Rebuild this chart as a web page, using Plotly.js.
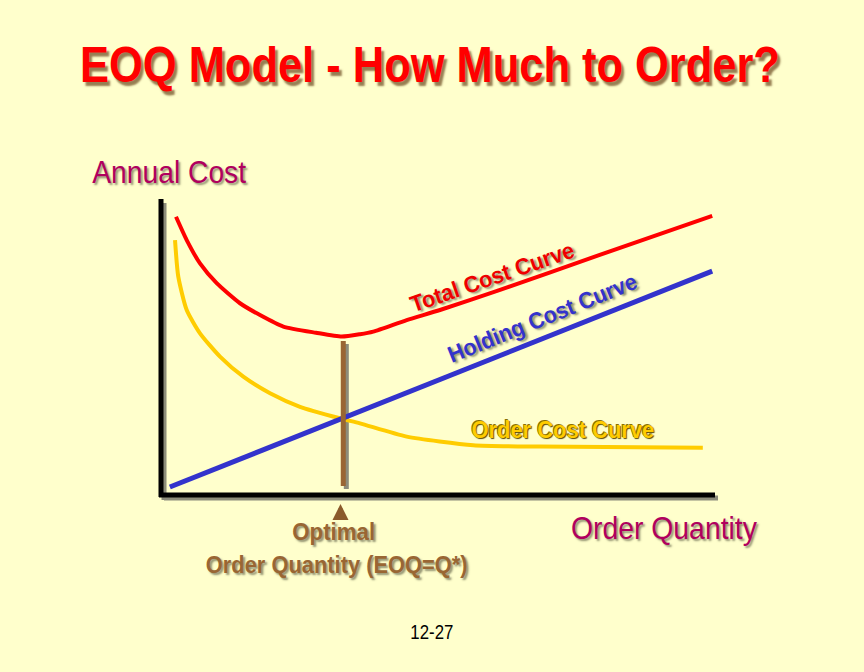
<!DOCTYPE html>
<html>
<head>
<meta charset="utf-8">
<script src="https://cdn.plot.ly/plotly-3.0.1.min.js"></script>
<style>html,body{margin:0;padding:0;background:#FFFFCC;}#chart{width:864px;height:672px;}</style>
</head>
<body>
<div id="chart"></div>
<script>
// Data (arbitrary units: order quantity 0-100, annual cost 0-100)
const totalQ    = [2.71, 4.64, 7.04, 10.05, 14.26, 17.87, 22.08, 27.98, 32.62, 35.92, 38.32, 44.35, 50.36, 61.2, 79.2, 99.5];
const totalCost = [94.3, 86.4, 78.5, 71.8, 65.0, 61.0, 57.1, 55.0, 53.7, 54.5, 55.4, 59.3, 62.7, 69.5, 81.4, 94.6];
const orderQ    = [2.53, 3.12, 4.64, 7.04, 10.65, 14.86, 19.68, 25.09, 32.31, 35.92, 44.35, 56.37, 68.41, 97.8];
const orderCost = [86.4, 74.0, 62.7, 54.8, 46.9, 40.1, 34.5, 29.9, 26.0, 24.3, 19.8, 16.9, 16.4, 16.0];
const holdQ     = [1.6, 99.5];
const holdCost  = [2.7, 75.9];
const eoqQ      = [32.9, 32.9];
const eoqBar    = [3.05, 52.2];

const L = 161, R = 715, T = 200, B = 495;
const px = x => (x - L) / (R - L);
const py = y => (B - y) / (B - T);
const face = "Liberation Sans, Arial, sans-serif";
const shadow = "2px 2px 2px rgba(60,60,40,0.55)";

const traces = [
  {x: eoqQ.map(v => v + 0.55), y: eoqBar.map(v => v - 1.0), mode: 'lines', line: {color: '#8c8c7a', width: 5}, hoverinfo: 'skip'},
  {x: orderQ, y: orderCost, mode: 'lines', line: {color: '#FFCC00', width: 4, shape: 'spline', smoothing: 0.6}},
  {x: holdQ, y: holdCost, mode: 'lines', line: {color: '#3333CC', width: 5}},
  {x: totalQ, y: totalCost, mode: 'lines', line: {color: '#FF0000', width: 4, shape: 'spline', smoothing: 0.6}},
  {x: eoqQ, y: eoqBar, mode: 'lines', line: {color: '#996633', width: 5}, hoverinfo: 'skip'}
];

// target widths (px) for condensed look
const fitW = {
  'EOQ Model - How Much to Order?': 700,
  'Annual Cost': 154,
  'Order Quantity': 186,
  'Total Cost Curve': 172,
  'Holding Cost Curve': 202,
  'Order Cost Curve': 183,
  'Optimal': 83,
  'Order Quantity (EOQ=Q*)': 262,
  '12-27': 43
};

const layout = {
  width: 864, height: 672,
  paper_bgcolor: '#FFFFCC', plot_bgcolor: 'rgba(0,0,0,0)',
  margin: {l: L, r: 864 - R, t: T, b: 672 - B, pad: 0},
  showlegend: false,
  xaxis: {range: [0, 100], visible: false, fixedrange: true},
  yaxis: {range: [0, 100], visible: false, fixedrange: true},
  title: {text: '<b>EOQ Model - How Much to Order?</b>', x: 430/864, xanchor: 'center', y: 1 - 65/672, yanchor: 'middle',
          font: {family: face, size: 50, color: '#FF0000', shadow: "3px 3px 2px rgba(80,40,0,0.6)"}},
  shapes: [
    {type: 'line', xref: 'paper', yref: 'paper', x0: px(164), x1: px(164), y0: py(203), y1: py(500), line: {color: '#8c8c7a', width: 5}, layer: 'below'},
    {type: 'line', xref: 'paper', yref: 'paper', x0: px(164), x1: px(718), y0: py(498), y1: py(498), line: {color: '#8c8c7a', width: 5}, layer: 'below'},
    {type: 'line', xref: 'paper', yref: 'paper', x0: px(161), x1: px(161), y0: py(199), y1: py(497), line: {color: '#000000', width: 5}},
    {type: 'line', xref: 'paper', yref: 'paper', x0: px(159), x1: px(715), y0: py(495), y1: py(495), line: {color: '#000000', width: 5}}
  ],
  annotations: [
    {text: 'Annual Cost', xref: 'paper', yref: 'paper', x: px(169), y: py(172), xanchor: 'center', yanchor: 'middle', showarrow: false,
     font: {family: face, size: 32, color: '#B0005E', shadow: shadow}},
    {text: 'Order Quantity', xref: 'paper', yref: 'paper', x: px(664), y: py(528), xanchor: 'center', yanchor: 'middle', showarrow: false,
     font: {family: face, size: 32, color: '#B0005E', shadow: shadow}},
    {text: '<b>Total Cost Curve</b>', xref: 'paper', yref: 'paper', x: px(492), y: py(277), xanchor: 'center', yanchor: 'middle', showarrow: false, textangle: -19,
     font: {family: face, size: 23, color: '#EE0000', shadow: shadow}},
    {text: '<b>Holding Cost Curve</b>', xref: 'paper', yref: 'paper', x: px(542), y: py(318), xanchor: 'center', yanchor: 'middle', showarrow: false, textangle: -22,
     font: {family: face, size: 23, color: '#3333CC', shadow: shadow}},
    {text: '<b>Order Cost Curve</b>', xref: 'paper', yref: 'paper', x: px(563), y: py(430), xanchor: 'center', yanchor: 'middle', showarrow: false,
     font: {family: face, size: 23, color: '#FFCC00', shadow: "1px 1px 1px #5a4a00, -1px -1px 0px #8a7000"}},
    {text: '<b>Optimal</b>', xref: 'paper', yref: 'paper', x: px(333), y: py(531), xanchor: 'center', yanchor: 'middle', showarrow: false,
     font: {family: face, size: 24, color: '#996633', shadow: shadow}},
    {text: '<b>Order Quantity (EOQ=Q*)</b>', xref: 'paper', yref: 'paper', x: px(336), y: py(564), xanchor: 'center', yanchor: 'middle', showarrow: false,
     font: {family: face, size: 24, color: '#996633', shadow: shadow}},
    {text: '', xref: 'x', yref: 'paper', x: eoqQ[0] - 0.5, y: py(504), ax: 0, ay: 16, showarrow: true, arrowhead: 2, arrowsize: 0.8, arrowwidth: 4, arrowcolor: '#8B5A2B'},
    {text: '12-27', xref: 'paper', yref: 'paper', x: px(432), y: py(631), xanchor: 'center', yanchor: 'middle', showarrow: false,
     font: {family: face, size: 21, color: '#000000'}}
  ]
};

function condense(el, W) {
  const bb = el.getBBox();
  if (!bb.width) return;
  const s = W / bb.width;
  const cx = bb.x + bb.width / 2;
  const prev = el.getAttribute('transform') || '';
  el.setAttribute('transform', (prev + ` translate(${cx},0) scale(${s},1) translate(${-cx},0)`).trim());
}

Plotly.newPlot('chart', traces, layout, {displayModeBar: false, staticPlot: true}).then(gd => {
  const els = gd.querySelectorAll('.gtitle, .annotation-text');
  els.forEach(el => {
    const t = el.textContent.trim();
    if (fitW[t]) condense(el, fitW[t]);
  });
});
</script>
</body>
</html>
